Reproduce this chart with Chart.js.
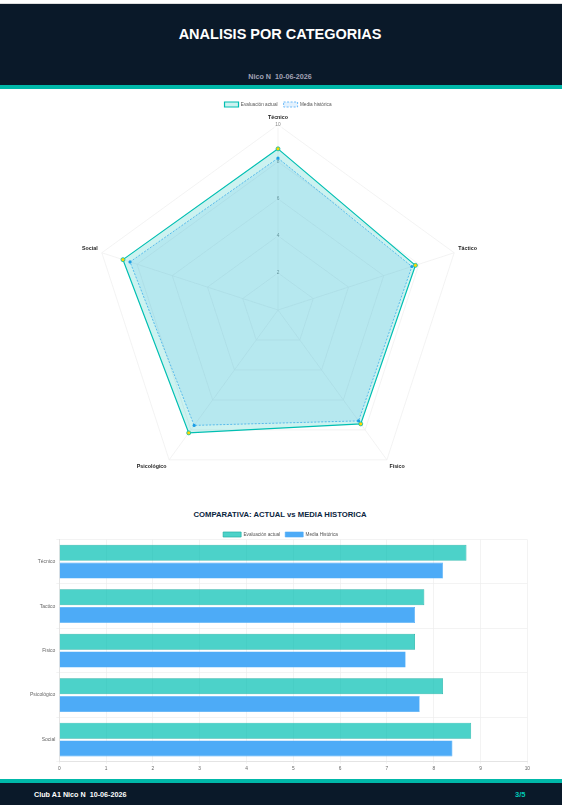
<!DOCTYPE html>
<html>
<head>
<meta charset="utf-8">
<script src="https://cdn.jsdelivr.net/npm/chart.js@4.4.1/dist/chart.umd.js"></script>
<style>
html,body{margin:0;padding:0;background:#fff;font-family:"Liberation Sans",Arial,sans-serif}
#page{position:relative;width:562px;height:805px;overflow:hidden;background:#fff;filter:blur(0.3px)}
.abs{position:absolute}
#head{left:0;top:3px;width:562px;height:82px;background:#0a1929;border-top:1px solid #ddd;box-sizing:border-box}
#headbar{left:0;top:85px;width:562px;height:4px;background:#00b8a9}
#title{left:0;top:25px;width:560px;text-align:center;color:#fff;font-weight:bold;font-size:14.5px;line-height:18px}
#sub{left:0;top:72px;width:560px;text-align:center;color:#a3a3b5;font-weight:bold;font-size:7.2px;line-height:10px;white-space:pre}
#t2{left:0;top:509px;width:560px;text-align:center;color:#0a2540;font-weight:bold;font-size:7.7px;line-height:11px}
#footbar{left:0;top:779px;width:562px;height:4px;background:#00b8a9}
#foot{left:0;top:783px;width:562px;height:22px;background:#0a1929}
#fl{left:34px;top:790px;color:#fff;font-weight:bold;font-size:7.2px;line-height:10px;white-space:pre}
#fr{left:515px;top:790px;color:#00c9b7;font-weight:bold;font-size:7.5px;line-height:10px}
</style>
</head>
<body>
<div id="page">
<div class="abs" id="head"></div>
<div class="abs" id="headbar"></div>
<div class="abs" id="title">ANALISIS POR CATEGORIAS</div>
<div class="abs" id="sub">Nico N  10-06-2026</div>
<div class="abs" style="left:0;top:95.5px;width:556px;height:407px"><canvas id="radar"></canvas></div>
<div class="abs" id="t2">COMPARATIVA: ACTUAL vs MEDIA HISTORICA</div>
<div class="abs" style="left:29px;top:526.5px;width:503px;height:246.5px"><canvas id="bar"></canvas></div>
<div class="abs" id="footbar"></div>
<div class="abs" id="foot"></div>
<div class="abs" id="fl">Club A1 Nico N  10-06-2026</div>
<div class="abs" id="fr">3/5</div>
</div>
<script>
const radarLabels = ["Técnico", "Táctico", "Físico", "Psicológico", "Social"];
const barLabels = ["Técnico", "Tactico", "Fisico", "Psicológico", "Social"];
const actual = [8.7, 7.8, 7.6, 8.2, 8.8];
const historica = [8.2, 7.6, 7.4, 7.7, 8.4];
const radarNames = ["Evaluación actual", "Media histórica"];
const barNames = ["Evaluación actual", "Media Histórica"];

Chart.defaults.font.family = "Liberation Sans";
Chart.defaults.animation = false;

function legendHeight(h) {
  return {
    id: "legendHeight",
    beforeLayout(chart) {
      const legend = chart.legend;
      if (!legend || legend._wrapped) return;
      const fit = legend.fit;
      legend.fit = function () { fit.call(this); this.height = h; };
      legend._wrapped = true;
    }
  };
}

new Chart(document.getElementById("radar"), {
  type: "radar",
  plugins: [legendHeight(15)],
  data: {
    labels: radarLabels,
    datasets: [
      {
        label: radarNames[0], data: actual,
        borderColor: "#00bfb2", backgroundColor: "rgba(0,191,178,0.2)", borderWidth: 1.2,
        pointBackgroundColor: "#ffd600", pointBorderColor: "#00bfb2", pointBorderWidth: 0.8, pointRadius: 2
      },
      {
        label: radarNames[1], data: historica,
        borderColor: "#4dabf7", backgroundColor: "rgba(77,171,247,0.15)", borderWidth: 0.8, borderDash: [2, 1.5],
        pointBackgroundColor: "#2196f3", pointBorderColor: "#4dabf7", pointBorderWidth: 0, pointRadius: 1.6
      }
    ]
  },
  options: {
    responsive: true,
    maintainAspectRatio: false,
    plugins: {
      legend: { position: "top", labels: { font: { size: 4.7 }, color: "#555", boxWidth: 14, boxHeight: 5, padding: 6 } },
      tooltip: { enabled: false }
    },
    scales: {
      r: {
        min: 0, max: 10,
        ticks: { stepSize: 2, font: { size: 4.8 }, color: "#888", backdropPadding: 1, backdropColor: "rgba(255,255,255,0.6)" },
        grid: { color: "#eeeeee", lineWidth: 0.7 },
        angleLines: { color: "#eeeeee", lineWidth: 0.7 },
        pointLabels: { font: { size: 5.3, weight: "bold" }, color: "#222", padding: 1 }
      }
    }
  }
});

new Chart(document.getElementById("bar"), {
  type: "bar",
  plugins: [legendHeight(12.5)],
  data: {
    labels: barLabels,
    datasets: [
      { label: barNames[0], data: actual, backgroundColor: "rgba(0,191,178,0.7)", borderColor: "#1fb0a4", borderWidth: 0.7 },
      { label: barNames[1], data: historica, backgroundColor: "#4dabf7", borderColor: "#4dabf7", borderWidth: 0.6 }
    ]
  },
  options: {
    indexAxis: "y",
    responsive: true,
    maintainAspectRatio: false,
    plugins: {
      legend: { position: "top", labels: { font: { size: 4.7 }, color: "#555", boxWidth: 18, boxHeight: 5, padding: 5 } },
      tooltip: { enabled: false }
    },
    scales: {
      x: { min: 0, max: 10, ticks: { stepSize: 1, font: { size: 4.8 }, color: "#666", padding: 2 }, grid: { color: "#eeeeee", lineWidth: 0.7, tickLength: 2 }, border: { color: "#e4e4e4" } },
      y: { ticks: { font: { size: 5 }, color: "#666", padding: 1 }, grid: { color: "#eeeeee", lineWidth: 0.7, tickLength: 3 }, border: { color: "#e4e4e4" } }
    }
  }
});
</script>
</body>
</html>
